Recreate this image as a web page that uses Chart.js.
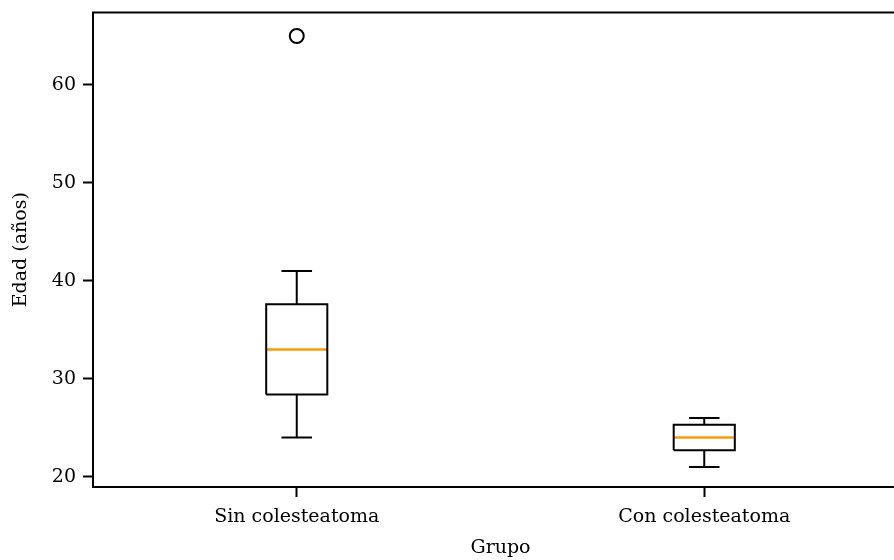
<!DOCTYPE html>
<html>
<head>
<meta charset="utf-8">
<script src="https://cdn.jsdelivr.net/npm/chart.js@4"></script>
<style>
  html, body { margin: 0; padding: 0; background: #fff; overflow: hidden; }
  #wrap { width: 917px; height: 560px; }
</style>
</head>
<body>
<div id="wrap"><canvas id="box-chart"></canvas></div>
<script>
// Dati del boxplot (età per gruppo)
const groups = ['Sin colesteatoma', 'Con colesteatoma'];
const whiskerLow = [24, 21];
const q1 = [28.4, 22.7];
const median = [33, 24];
const q3 = [37.6, 25.3];
const whiskerHigh = [41, 26];
const outliers = [[65], []];
const yTicks = [20, 30, 40, 50, 60];

const FONT = 'DejaVu Serif';
const halfBox = 0.075;   // metà larghezza scatola
const halfCap = 0.0375;  // metà larghezza dei baffi

function seg(points, color, width) {
    return {
        data: points,
        showLine: true,
        borderColor: color,
        borderWidth: width,
        pointRadius: 0,
        fill: false
    };
}

// Costruisci i dataset per ogni gruppo
const datasets = [];
groups.forEach((g, i) => {
    const x = i + 1;
    datasets.push(seg([
        { x: x - halfBox, y: q1[i] }, { x: x + halfBox, y: q1[i] },
        { x: x + halfBox, y: q3[i] }, { x: x - halfBox, y: q3[i] },
        { x: x - halfBox, y: q1[i] }
    ], '#000', 2));
    datasets.push(seg([{ x: x, y: q1[i] }, { x: x, y: whiskerLow[i] }], '#000', 2));
    datasets.push(seg([{ x: x, y: q3[i] }, { x: x, y: whiskerHigh[i] }], '#000', 2));
    datasets.push(seg([{ x: x - halfCap, y: whiskerLow[i] }, { x: x + halfCap, y: whiskerLow[i] }], '#000', 2));
    datasets.push(seg([{ x: x - halfCap, y: whiskerHigh[i] }, { x: x + halfCap, y: whiskerHigh[i] }], '#000', 2));
    datasets.push(seg([{ x: x - halfBox, y: median[i] }, { x: x + halfBox, y: median[i] }], '#fa9b0a', 2.5));
    datasets.push({
        data: outliers[i].map(v => ({ x: x, y: v })),
        showLine: false,
        pointStyle: 'circle',
        pointRadius: 7,
        borderColor: '#000',
        borderWidth: 2,
        backgroundColor: 'rgba(0,0,0,0)'
    });
});

// Bordo superiore dell'area del grafico
const topSpine = {
    id: 'topSpine',
    afterDraw(chart) {
        const a = chart.chartArea;
        const ctx = chart.ctx;
        ctx.save();
        ctx.strokeStyle = '#000';
        ctx.lineWidth = 2;
        ctx.beginPath();
        ctx.moveTo(a.left - 1, a.top);
        ctx.lineTo(a.right + 5, a.top);
        ctx.stroke();
        ctx.restore();
    }
};

const ctx = document.getElementById('box-chart').getContext('2d');
new Chart(ctx, {
    type: 'scatter',
    data: { datasets: datasets },
    plugins: [topSpine],
    options: {
        responsive: true,
        maintainAspectRatio: false,
        animation: false,
        layout: { padding: { top: 12.5, right: 2, left: 0, bottom: 0 } },
        plugins: {
            legend: { display: false },
            tooltip: { enabled: false }
        },
        scales: {
            x: {
                type: 'linear',
                min: 0.5,
                max: 2.5,
                afterBuildTicks: (scale) => {
                    scale.ticks = groups.map((g, i) => ({ value: i + 1 }));
                },
                afterFit: (scale) => {
                    scale.height = 73;
                    scale.paddingLeft = 0;
                    scale.paddingRight = 0;
                },
                ticks: {
                    callback: (v) => groups[v - 1],
                    color: '#000',
                    font: { family: FONT, size: 19 },
                    padding: 9,
                    maxRotation: 0
                },
                grid: {
                    drawOnChartArea: false,
                    drawTicks: true,
                    tickLength: 10,
                    tickWidth: 2,
                    tickColor: '#000'
                },
                border: { display: true, color: '#000', width: 2 },
                title: {
                    display: true,
                    text: 'Grupo',
                    color: '#000',
                    font: { family: FONT, size: 19 },
                    padding: { top: 0, bottom: 1 }
                }
            },
            y: {
                min: 18.95,
                max: 67.4,
                afterBuildTicks: (scale) => {
                    scale.ticks = yTicks.map(v => ({ value: v }));
                },
                afterFit: (scale) => {
                    scale.width = 93;
                    scale.paddingTop = 0;
                    scale.paddingBottom = 0;
                },
                ticks: {
                    color: '#000',
                    font: { family: FONT, size: 19 },
                    padding: 7
                },
                grid: {
                    drawOnChartArea: false,
                    drawTicks: true,
                    tickLength: 10,
                    tickWidth: 2,
                    tickColor: '#000'
                },
                border: { display: true, color: '#000', width: 2 },
                title: {
                    display: true,
                    text: 'Edad (años)',
                    color: '#000',
                    font: { family: FONT, size: 19 },
                    padding: { top: 10, bottom: 0 }
                }
            }
        }
    }
});
</script>
</body>
</html>
